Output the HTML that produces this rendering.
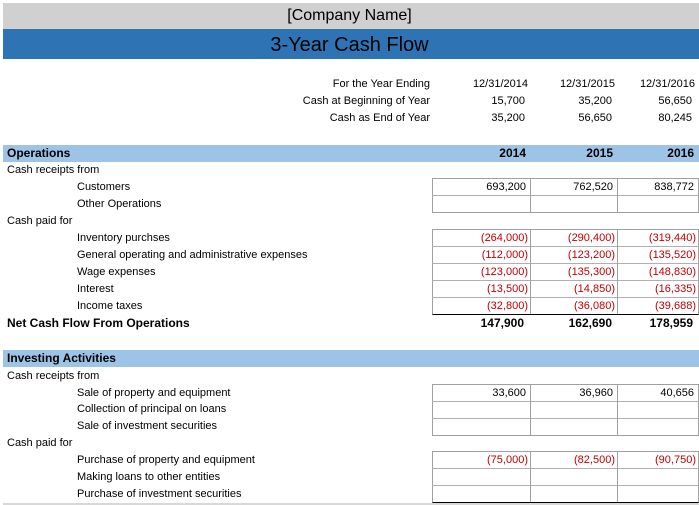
<!DOCTYPE html>
<html><head><style>
body{margin:0;width:699px;height:505px;background:#fff;position:relative;overflow:hidden;font-family:"Liberation Sans",sans-serif;}
.a{position:absolute;white-space:nowrap;font-size:11px;line-height:17px;color:#000;}
.r{text-align:right;}
.red{color:#c00000;}
.b{font-weight:bold;font-size:12px;}
.box{position:absolute;border:1px solid #a0a0a0;box-sizing:border-box;}
.hl{position:absolute;height:1px;background:#b0b0b0;}
.vl{position:absolute;width:1px;background:#a0a0a0;}
</style></head><body>
<div style="position:absolute;left:3px;top:3px;width:696px;height:26px;background:#d0d0d0;"></div>
<div class="a" style="left:0;width:699px;top:5px;text-align:center;font-size:16px;line-height:22px;">[Company Name]</div>
<div style="position:absolute;left:3px;top:29px;width:696px;height:30px;background:#2e74b5;"></div>
<div class="a" style="left:0;width:699px;top:31px;text-align:center;font-size:20px;line-height:28px;">3-Year Cash Flow</div>

<div class="a r" style="left:200px;width:230px;top:76px">For the Year Ending</div>
<div class="a r" style="left:200px;width:230px;top:93px">Cash at Beginning of Year</div>
<div class="a r" style="left:200px;width:230px;top:110px">Cash as End of Year</div>
<div class="a r" style="left:440px;width:88px;top:76px">12/31/2014</div>
<div class="a r" style="left:527px;width:88px;top:76px">12/31/2015</div>
<div class="a r" style="left:607px;width:88px;top:76px">12/31/2016</div>
<div class="a r" style="left:440px;width:85px;top:93px">15,700</div>
<div class="a r" style="left:527px;width:85px;top:93px">35,200</div>
<div class="a r" style="left:607px;width:85px;top:93px">56,650</div>
<div class="a r" style="left:440px;width:85px;top:110px">35,200</div>
<div class="a r" style="left:527px;width:85px;top:110px">56,650</div>
<div class="a r" style="left:607px;width:85px;top:110px">80,245</div>

<div style="position:absolute;left:3px;top:145px;width:696px;height:17px;background:#9dc3e6;"></div>
<div class="a b" style="left:7px;top:145px">Operations</div>
<div class="a b r" style="left:430px;width:96px;top:145px">2014</div>
<div class="a b r" style="left:520px;width:93px;top:145px">2015</div>
<div class="a b r" style="left:600px;width:94px;top:145px">2016</div>

<div class="a" style="left:7px;top:162px">Cash receipts from</div>
<div class="a" style="left:77px;top:179px">Customers</div>
<div class="a" style="left:77px;top:196px">Other Operations</div>
<div class="a" style="left:7px;top:213px">Cash paid for</div>
<div class="a" style="left:77px;top:230px">Inventory purchses</div>
<div class="a" style="left:77px;top:247px">General operating and administrative expenses</div>
<div class="a" style="left:77px;top:264px">Wage expenses</div>
<div class="a" style="left:77px;top:281px">Interest</div>
<div class="a" style="left:77px;top:298px">Income taxes</div>
<div class="a b" style="left:7px;top:315px">Net Cash Flow From Operations</div>

<div class="box" style="left:432px;top:178px;width:267px;height:35px;"></div>
<div class="hl" style="left:432px;top:195px;width:267px;"></div>
<div class="vl" style="left:530px;top:178px;height:35px;"></div>
<div class="vl" style="left:617px;top:178px;height:35px;"></div>
<div class="a r" style="left:440px;width:86px;top:179px">693,200</div>
<div class="a r" style="left:527px;width:86px;top:179px">762,520</div>
<div class="a r" style="left:607px;width:87px;top:179px">838,772</div>

<div class="box" style="left:432px;top:229px;width:267px;height:86px;border-bottom:1px solid #000;"></div>
<div class="hl" style="left:432px;top:246px;width:267px;"></div>
<div class="hl" style="left:432px;top:263px;width:267px;"></div>
<div class="hl" style="left:432px;top:280px;width:267px;"></div>
<div class="hl" style="left:432px;top:297px;width:267px;"></div>
<div class="vl" style="left:530px;top:229px;height:85px;"></div>
<div class="vl" style="left:617px;top:229px;height:85px;"></div>
<div class="a r red" style="left:440px;width:88px;top:230px">(264,000)</div>
<div class="a r red" style="left:527px;width:88px;top:230px">(290,400)</div>
<div class="a r red" style="left:607px;width:89px;top:230px">(319,440)</div>
<div class="a r red" style="left:440px;width:88px;top:247px">(112,000)</div>
<div class="a r red" style="left:527px;width:88px;top:247px">(123,200)</div>
<div class="a r red" style="left:607px;width:89px;top:247px">(135,520)</div>
<div class="a r red" style="left:440px;width:88px;top:264px">(123,000)</div>
<div class="a r red" style="left:527px;width:88px;top:264px">(135,300)</div>
<div class="a r red" style="left:607px;width:89px;top:264px">(148,830)</div>
<div class="a r red" style="left:440px;width:88px;top:281px">(13,500)</div>
<div class="a r red" style="left:527px;width:88px;top:281px">(14,850)</div>
<div class="a r red" style="left:607px;width:89px;top:281px">(16,335)</div>
<div class="a r red" style="left:440px;width:88px;top:298px">(32,800)</div>
<div class="a r red" style="left:527px;width:88px;top:298px">(36,080)</div>
<div class="a r red" style="left:607px;width:89px;top:298px">(39,688)</div>
<div class="a b r" style="left:430px;width:94px;top:315px">147,900</div>
<div class="a b r" style="left:520px;width:92px;top:315px">162,690</div>
<div class="a b r" style="left:600px;width:93px;top:315px">178,959</div>

<div style="position:absolute;left:3px;top:350px;width:696px;height:17px;background:#9dc3e6;"></div>
<div class="a b" style="left:7px;top:350px">Investing Activities</div>
<div class="a" style="left:7px;top:368px">Cash receipts from</div>
<div class="a" style="left:77px;top:385px">Sale of property and equipment</div>
<div class="a" style="left:77px;top:401px">Collection of principal on loans</div>
<div class="a" style="left:77px;top:418px">Sale of investment securities</div>
<div class="a" style="left:7px;top:435px">Cash paid for</div>
<div class="a" style="left:77px;top:452px">Purchase of property and equipment</div>
<div class="a" style="left:77px;top:469px">Making loans to other entities</div>
<div class="a" style="left:77px;top:486px">Purchase of investment securities</div>

<div class="box" style="left:432px;top:384px;width:267px;height:52px;"></div>
<div class="hl" style="left:432px;top:401px;width:267px;"></div>
<div class="hl" style="left:432px;top:418px;width:267px;"></div>
<div class="vl" style="left:530px;top:384px;height:52px;"></div>
<div class="vl" style="left:617px;top:384px;height:52px;"></div>
<div class="a r" style="left:440px;width:86px;top:385px">33,600</div>
<div class="a r" style="left:527px;width:86px;top:385px">36,960</div>
<div class="a r" style="left:607px;width:87px;top:385px">40,656</div>

<div class="box" style="left:432px;top:451px;width:267px;height:52px;border-bottom:1px solid #000;"></div>
<div class="hl" style="left:432px;top:468px;width:267px;"></div>
<div class="hl" style="left:432px;top:485px;width:267px;"></div>
<div class="vl" style="left:530px;top:451px;height:51px;"></div>
<div class="vl" style="left:617px;top:451px;height:51px;"></div>
<div class="a r red" style="left:440px;width:88px;top:452px">(75,000)</div>
<div class="a r red" style="left:527px;width:88px;top:452px">(82,500)</div>
<div class="a r red" style="left:607px;width:89px;top:452px">(90,750)</div>
<div style="position:absolute;left:3px;top:503px;width:696px;height:2px;background:#d8d8d8;"></div>
</body></html>
